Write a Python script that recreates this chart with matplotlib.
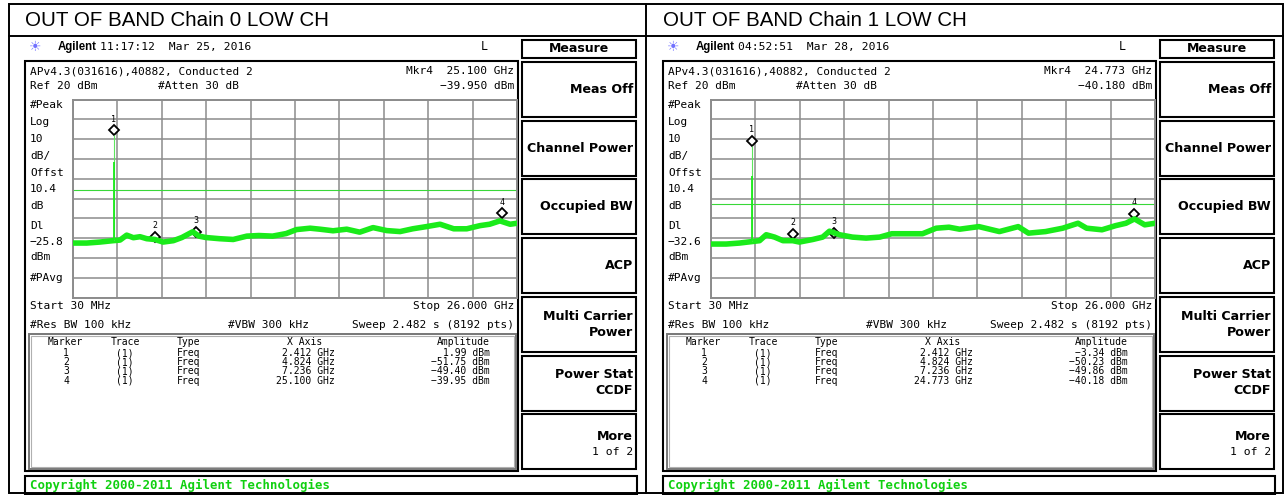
import numpy as np
import matplotlib
matplotlib.use("Agg")
import matplotlib.pyplot as plt
from matplotlib.patches import Rectangle
from matplotlib.transforms import offset_copy

# ---- values ----
titles = ["OUT OF BAND Chain 0 LOW CH", "OUT OF BAND Chain 1 LOW CH"]
timestamps = ["11:17:12  Mar 25, 2016", "04:52:51  Mar 28, 2016"]
mkr4_freq_txt = ["Mkr4  25.100 GHz", "Mkr4  24.773 GHz"]
mkr4_amp_txt = ["\u221239.950 dBm", "\u221240.180 dBm"]
dl_txt = ["\u221225.8", "\u221232.6"]
display_line = [-25.8, -32.6]

marker_ids = [1, 2, 3, 4]
marker_freq = [[2.412, 4.824, 7.236, 25.100], [2.412, 4.824, 7.236, 24.773]]
marker_amp = [[1.99, -51.75, -49.40, -39.95], [-3.34, -50.23, -49.86, -40.18]]
marker_freq_txt = [["2.412 GHz", "4.824 GHz", "7.236 GHz", "25.100 GHz"],
                   ["2.412 GHz", "4.824 GHz", "7.236 GHz", "24.773 GHz"]]
marker_amp_txt = [["1.99 dBm", "\u221251.75 dBm", "\u221249.40 dBm", "\u221239.95 dBm"],
                  ["\u22123.34 dBm", "\u221250.23 dBm", "\u221249.86 dBm", "\u221240.18 dBm"]]

# carrier spike: floor and the shorter neighbouring bin
spike_floor = [-51.0, -51.5]
spike_side = [-11.5, -18.8]

# trace (GHz, dBm), centre of the noisy band
left_freq = [0.03, 0.83, 1.6, 2.37, 2.78, 3.17, 3.56, 3.95, 4.34, 4.82, 5.3, 5.9,
             6.4, 7.03, 7.4, 7.8, 8.6, 9.4, 10.2, 10.9, 11.7, 12.5, 13.1, 13.9,
             14.47, 15.24, 16.04, 16.8, 17.58, 18.38, 19.16, 19.9, 20.7, 21.5,
             22.3, 23.06, 23.84, 24.4, 25.0, 25.6, 26.0]
left_amp = [-52.5, -52.5, -52.0, -51.3, -51.0, -48.5, -49.8, -49.3, -50.3, -50.7,
            -52.0, -51.3, -49.7, -46.8, -49.0, -49.7, -50.3, -50.7, -49.0, -48.7,
            -49.0, -47.7, -45.7, -45.0, -45.5, -46.3, -45.5, -47.0, -44.7, -46.2,
            -46.7, -45.3, -44.2, -43.0, -45.3, -45.3, -43.7, -43.0, -41.3, -43.0, -42.5]
right_freq = [0.04, 0.92, 1.7, 2.38, 2.87, 3.26, 3.75, 4.24, 4.81, 5.2, 5.98, 6.56,
              6.96, 7.55, 8.3, 9.1, 9.9, 10.6, 11.4, 12.4, 13.2, 13.95, 14.57, 15.7,
              16.9, 18.0, 18.6, 19.6, 20.6, 21.5, 22.0, 22.9, 23.7, 24.3, 24.8, 25.4, 26.0]
right_amp = [-53.0, -53.0, -52.5, -51.8, -51.3, -48.3, -49.5, -51.3, -51.3, -52.0,
             -50.7, -49.5, -46.5, -48.3, -49.5, -50.0, -49.5, -47.8, -47.8, -47.8,
             -45.0, -44.5, -45.5, -44.2, -46.7, -44.2, -47.5, -46.7, -45.0, -42.5,
             -45.0, -45.8, -43.7, -42.5, -40.3, -43.3, -42.5]
traces = [(left_freq, left_amp), (right_freq, right_amp)]

side_labels = ["#Peak", "Log", "10", "dB/", "Offst", "10.4", "dB", "Dl", None, "dBm", "#PAvg"]
side_label_y = [105, 122, 139, 156, 173, 189, 206, 226, 242, 257, 278]

softkeys = [["Meas Off"], ["Channel Power"], ["Occupied BW"], ["ACP"],
            ["Multi Carrier", "Power"], ["Power Stat", "CCDF"], ["More", "1 of 2"]]

W, H = 1285, 495
DX = 638
MONO = "DejaVu Sans Mono"
GREEN = "#1aeb1a"

fig = plt.figure(figsize=(W / 100, H / 100), dpi=100)
bg = fig.add_axes([0, 0, 1, 1])
bg.set_xlim(0, W)
bg.set_ylim(H, 0)
bg.axis("off")

# outer table
bg.add_patch(Rectangle((9, 4), 1274, 489, fill=False, ec="black", lw=1.4))
bg.plot([9, 1283], [36, 36], color="black", lw=1.4)
bg.plot([646, 646], [4, 493], color="black", lw=1.4)


def draw_panel(k):
    dx = DX * k
    bg.text(25 + dx, 20, titles[k], fontsize=14.8, family="Liberation Sans", va="center")

    # header row
    bg.text(35 + dx, 47, "\u2600", fontsize=10, color="#7070ff", ha="center", va="center")
    bg.text(58 + dx, 47, "Agilent", fontsize=8.3, weight="bold", family="Liberation Sans", va="center")
    bg.text(100 + dx, 47, timestamps[k], fontsize=8.2, family=MONO, va="center")
    bg.text(484 + dx, 47, "L", fontsize=8.4, family=MONO, va="center", ha="center")

    # analyzer frame
    bg.add_patch(Rectangle((25 + dx, 61), 493, 410, fill=False, ec="black", lw=1.5))
    bg.text(30 + dx, 71, "APv4.3(031616),40882, Conducted 2", fontsize=8, family=MONO, va="center")
    bg.text(514 + dx, 71, mkr4_freq_txt[k], fontsize=8, family=MONO, va="center", ha="right")
    bg.text(30 + dx, 86, "Ref 20 dBm", fontsize=8, family=MONO, va="center")
    bg.text(158 + dx, 86, "#Atten 30 dB", fontsize=8, family=MONO, va="center")
    bg.text(514 + dx, 86, mkr4_amp_txt[k], fontsize=8, family=MONO, va="center", ha="right")
    for lab, y in zip(side_labels, side_label_y):
        bg.text(30 + dx, y, lab if lab else dl_txt[k], fontsize=8, family=MONO, va="center")

    bg.text(30 + dx, 306, "Start 30 MHz", fontsize=8, family=MONO, va="center")
    bg.text(514 + dx, 306, "Stop 26.000 GHz", fontsize=8, family=MONO, va="center", ha="right")
    bg.text(30 + dx, 325, "#Res BW 100 kHz", fontsize=8, family=MONO, va="center")
    bg.text(228 + dx, 325, "#VBW 300 kHz", fontsize=8, family=MONO, va="center")
    bg.text(514 + dx, 325, "Sweep 2.482 s (8192 pts)", fontsize=8, family=MONO, va="center", ha="right")

    # marker table
    bg.add_patch(Rectangle((29 + dx, 334), 487, 135, fill=False, ec="#777777", lw=1.4))
    bg.add_patch(Rectangle((31 + dx, 336), 483, 131, fill=False, ec="#b0b0b0", lw=0.8))
    ts = 7.0
    bg.text(65 + dx, 342, "Marker", fontsize=ts, family=MONO, va="center", ha="center")
    bg.text(125 + dx, 342, "Trace", fontsize=ts, family=MONO, va="center", ha="center")
    bg.text(177 + dx, 342, "Type", fontsize=ts, family=MONO, va="center")
    bg.text(305 + dx, 342, "X Axis", fontsize=ts, family=MONO, va="center", ha="center")
    bg.text(490 + dx, 342, "Amplitude", fontsize=ts, family=MONO, va="center", ha="right")
    for i, mid in enumerate(marker_ids):
        y = 353 + 9.2 * i
        bg.text(66 + dx, y, str(mid), fontsize=ts, family=MONO, va="center", ha="center")
        bg.text(125 + dx, y, "(1)", fontsize=ts, family=MONO, va="center", ha="center")
        bg.text(177 + dx, y, "Freq", fontsize=ts, family=MONO, va="center")
        bg.text(335 + dx, y, marker_freq_txt[k][i], fontsize=ts, family=MONO, va="center", ha="right")
        bg.text(490 + dx, y, marker_amp_txt[k][i], fontsize=ts, family=MONO, va="center", ha="right")

    # softkeys
    bg.add_patch(Rectangle((522 + dx, 40), 114, 18, fill=False, ec="black", lw=1.5))
    bg.text(579 + dx, 49, "Measure", fontsize=9.0, weight="bold", va="center", ha="center")
    fs = 9.1
    for j, key in enumerate(softkeys):
        top = 62 + 58.7 * j
        bg.add_patch(Rectangle((522 + dx, top), 114, 55, fill=False, ec="black", lw=1.5))
        cy = top + 27.5
        if len(key) == 1:
            bg.text(633 + dx, cy, key[0], fontsize=fs, weight="bold", va="center", ha="right")
        elif key[0] == "More":
            bg.text(633 + dx, cy - 5, key[0], fontsize=fs, weight="bold", va="center", ha="right")
            bg.text(633 + dx, cy + 10, key[1], fontsize=8.2, family=MONO, va="center", ha="right")
        else:
            bg.text(633 + dx, cy - 8, key[0], fontsize=fs, weight="bold", va="center", ha="right")
            bg.text(633 + dx, cy + 8, key[1], fontsize=fs, weight="bold", va="center", ha="right")

    # copyright bar
    bg.add_patch(Rectangle((25 + dx, 476), 612, 18, fill=False, ec="black", lw=1.5))
    bg.text(30 + dx, 485, "Copyright 2000-2011 Agilent Technologies", fontsize=8.9,
            family=MONO, weight="bold", color="#10d010", va="center")

    # graticule
    ax = fig.add_axes([(73 + dx) / W, 1 - 297.5 / H, 444 / W, 198 / H])
    ax.set_xlim(0.03, 26.0)
    ax.set_ylim(-80, 20)
    ax.set_xticks(np.linspace(0.03, 26.0, 11))
    ax.set_yticks(np.arange(-80, 21, 10))
    ax.grid(True, color="#8c8c8c", lw=1.1)
    ax.tick_params(length=0, labelbottom=False, labelleft=False)
    for s in ax.spines.values():
        s.set_color("#8c8c8c")
        s.set_linewidth(1.4)

    ax.axhline(display_line[k], color="#38d838", lw=0.8, zorder=2.5)

    # markers sit just above the trace point, under the trace
    mtrans = offset_copy(ax.transData, fig=fig, x=0, y=5, units="dots")
    ltrans = offset_copy(ax.transData, fig=fig, x=0, y=16, units="dots")
    ax.plot(marker_freq[k], marker_amp[k], ls="none", marker="D", ms=5.3, mfc="white",
            mec="black", mew=1.3, transform=mtrans, zorder=2, clip_on=False)
    for mid, f, a in zip(marker_ids, marker_freq[k], marker_amp[k]):
        ax.text(f, a, str(mid), fontsize=6, family=MONO, ha="center", va="center",
                transform=ltrans, zorder=2)

    f, a = traces[k]
    ax.plot(f, a, color=GREEN, lw=4.0, solid_joinstyle="round", zorder=3)
    ax.vlines(marker_freq[k][0], spike_floor[k], marker_amp[k][0], color="#5ee65e", lw=0.8, zorder=3)
    ax.vlines(marker_freq[k][0] + 0.04, spike_floor[k], spike_side[k], color=GREEN, lw=1.3, zorder=3)


for k in range(2):
    draw_panel(k)

fig.savefig("out.png", dpi=100)
